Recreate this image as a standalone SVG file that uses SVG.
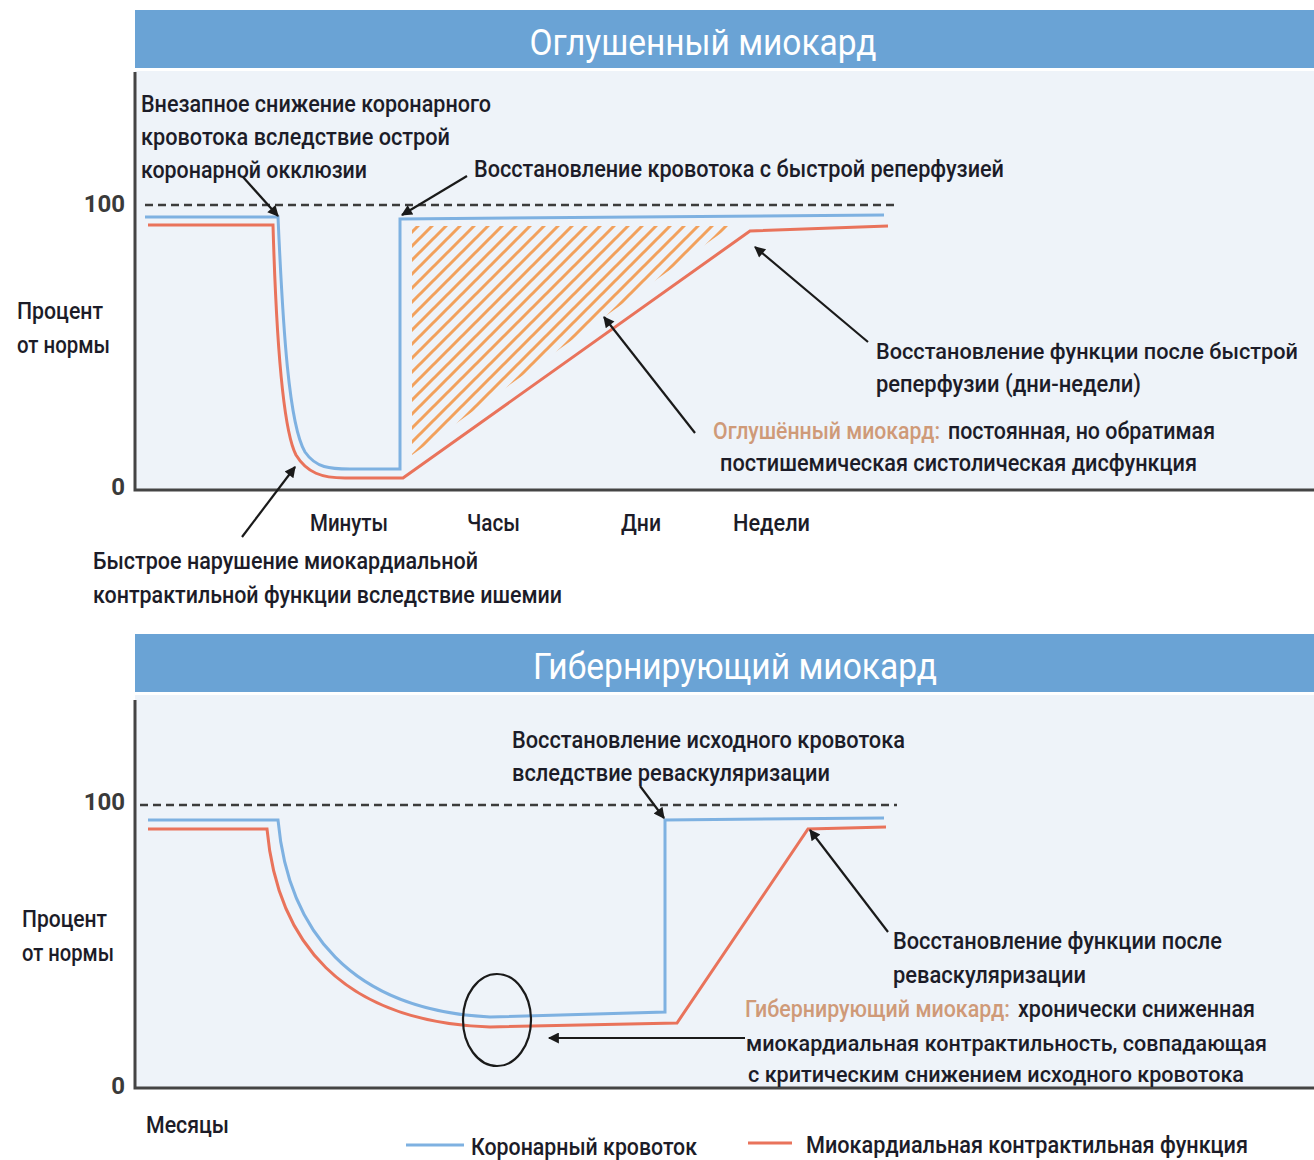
<svg xmlns="http://www.w3.org/2000/svg" width="1314" height="1160" viewBox="0 0 1314 1160">
<style>
.t{font-family:Roboto,"Liberation Sans",sans-serif;font-size:24px;font-weight:500;fill:#1c1c28}
.s{font-size:22px}
.tan{fill:#cf9a78}
.hd{font-family:Roboto,"Liberation Sans",sans-serif;font-size:37px;fill:#ffffff}
.num{font-family:Roboto,"Liberation Sans",sans-serif;font-size:24px;font-weight:bold;fill:#3a3a3a}
.ax{stroke:#444;stroke-width:3;fill:none}
.dash{stroke:#3c3c3c;stroke-width:2.5;stroke-dasharray:8,5;fill:none}
.bl{stroke:#7eb1e1;stroke-width:3;fill:none}
.rd{stroke:#e9735b;stroke-width:3;fill:none}
.ar{stroke:#1a1a1a;stroke-width:2.2;fill:none;marker-end:url(#ah)}
</style>
<defs>
<marker id="ah" viewBox="0 0 10 10" refX="9" refY="5" markerWidth="15" markerHeight="11" markerUnits="userSpaceOnUse" orient="auto">
<path d="M0,0 L10,5 L0,10 z" fill="#1a1a1a"/>
</marker>
<pattern id="hatch" patternUnits="userSpaceOnUse" width="14" height="14">
<path d="M-3.5,3.5 l7,-7 M0,14 l14,-14 M10.5,17.5 l7,-7" stroke="#f2a15c" stroke-width="3"/>
</pattern>
</defs>
<rect width="1314" height="1160" fill="#ffffff"/>

<g id="panel-top">
<rect x="135" y="10" width="1179" height="58" fill="#6aa3d5"/>
<text class="hd" x="703" y="55" text-anchor="middle" textLength="347" lengthAdjust="spacingAndGlyphs">Оглушенный миокард</text>
<rect x="135" y="71" width="1179" height="419" fill="#eef3f9"/>
<polygon points="412,226 731,226 412,455" fill="url(#hatch)"/>
<line class="dash" x1="145" y1="205" x2="897" y2="205"/>
<path class="bl" d="M145,217 H278 C283,330 289,425 305,452 C316,468 330,469 350,469 H400 V219 L884,215"/>
<path class="rd" d="M148,225 H273 C276,330 282,428 296,455 C307,473 322,478 345,478 H403 L750,231 L888,226"/>
<path class="ax" d="M135,72 V490 H1314"/>
<text class="num" x="125" y="212" text-anchor="end">100</text>
<text class="num" x="125" y="495" text-anchor="end">0</text>
<text class="t" x="17" y="319" textLength="86" lengthAdjust="spacingAndGlyphs">Процент</text>
<text class="t" x="17" y="353" textLength="93" lengthAdjust="spacingAndGlyphs">от нормы</text>
<text class="t" x="141" y="112" textLength="350" lengthAdjust="spacingAndGlyphs">Внезапное снижение коронарного</text>
<text class="t" x="141" y="145" textLength="309" lengthAdjust="spacingAndGlyphs">кровотока вследствие острой</text>
<text class="t" x="141" y="178" textLength="226" lengthAdjust="spacingAndGlyphs">коронарной окклюзии</text>
<text class="t" x="474" y="177" textLength="530" lengthAdjust="spacingAndGlyphs">Восстановление кровотока с быстрой реперфузией</text>
<text class="t s" x="876" y="359" textLength="422" lengthAdjust="spacingAndGlyphs">Восстановление функции после быстрой</text>
<text class="t" x="876" y="392" textLength="265" lengthAdjust="spacingAndGlyphs">реперфузии (дни-недели)</text>
<text class="t tan" x="713" y="439" textLength="227" lengthAdjust="spacingAndGlyphs">Оглушённый миокард:</text>
<text class="t" x="948" y="439" textLength="267" lengthAdjust="spacingAndGlyphs">постоянная, но обратимая</text>
<text class="t" x="720" y="471" textLength="477" lengthAdjust="spacingAndGlyphs">постишемическая систолическая дисфункция</text>
<text class="t" x="310" y="531" textLength="78" lengthAdjust="spacingAndGlyphs">Минуты</text>
<text class="t" x="467" y="531" textLength="53" lengthAdjust="spacingAndGlyphs">Часы</text>
<text class="t" x="621" y="531" textLength="40" lengthAdjust="spacingAndGlyphs">Дни</text>
<text class="t" x="733" y="531" textLength="77" lengthAdjust="spacingAndGlyphs">Недели</text>
<text class="t" x="93" y="569" textLength="385" lengthAdjust="spacingAndGlyphs">Быстрое нарушение миокардиальной</text>
<text class="t" x="93" y="603" textLength="469" lengthAdjust="spacingAndGlyphs">контрактильной функции вследствие ишемии</text>
</g>

<g id="panel-bottom">
<rect x="135" y="634" width="1179" height="58" fill="#6aa3d5"/>
<text class="hd" x="735" y="679" text-anchor="middle" textLength="404" lengthAdjust="spacingAndGlyphs">Гибернирующий миокард</text>
<rect x="135" y="695" width="1179" height="393" fill="#eef3f9"/>
<line class="dash" x1="140" y1="805" x2="897" y2="805"/>
<path class="bl" d="M148,820 H278 C288,930 350,1010 490,1017 L665,1012 V820 L884,818"/>
<path class="rd" d="M148,829 H267 C277,940 340,1022 490,1027 L677,1023 L808,829 L886,827"/>
<ellipse cx="497" cy="1020" rx="34" ry="46" fill="none" stroke="#1a1a1a" stroke-width="2.2"/>
<path class="ax" d="M135,700 V1088 H1314"/>
<text class="num" x="125" y="810" text-anchor="end">100</text>
<text class="num" x="125" y="1094" text-anchor="end">0</text>
<text class="t" x="22" y="927" textLength="85" lengthAdjust="spacingAndGlyphs">Процент</text>
<text class="t" x="22" y="961" textLength="92" lengthAdjust="spacingAndGlyphs">от нормы</text>
<text class="t" x="512" y="748" textLength="393" lengthAdjust="spacingAndGlyphs">Восстановление исходного кровотока</text>
<text class="t" x="512" y="781" textLength="318" lengthAdjust="spacingAndGlyphs">вследствие реваскуляризации</text>
<text class="t" x="893" y="949" textLength="329" lengthAdjust="spacingAndGlyphs">Восстановление функции после</text>
<text class="t" x="893" y="983" textLength="193" lengthAdjust="spacingAndGlyphs">реваскуляризации</text>
<text class="t tan" x="745" y="1017" textLength="265" lengthAdjust="spacingAndGlyphs">Гибернирующий миокард:</text>
<text class="t" x="1018" y="1017" textLength="237" lengthAdjust="spacingAndGlyphs">хронически сниженная</text>
<text class="t s" x="746" y="1051" textLength="521" lengthAdjust="spacingAndGlyphs">миокардиальная контрактильность, совпадающая</text>
<text class="t s" x="748" y="1082" textLength="496" lengthAdjust="spacingAndGlyphs">с критическим снижением исходного кровотока</text>
<text class="t" x="146" y="1133" textLength="83" lengthAdjust="spacingAndGlyphs">Месяцы</text>
</g>

<g id="legend">
<line class="bl" x1="406" y1="1145" x2="464" y2="1145"/>
<text class="t" x="471" y="1155" textLength="226" lengthAdjust="spacingAndGlyphs">Коронарный кровоток</text>
<line class="rd" x1="748" y1="1143" x2="792" y2="1143"/>
<text class="t" x="806" y="1153" textLength="442" lengthAdjust="spacingAndGlyphs">Миокардиальная контрактильная функция</text>
</g>

<g id="connectors">
<line class="ar" x1="243" y1="177" x2="278" y2="216"/>
<line class="ar" x1="467" y1="176" x2="402" y2="215"/>
<line class="ar" x1="868" y1="342" x2="755" y2="247"/>
<line class="ar" x1="695" y1="433" x2="604" y2="317"/>
<line class="ar" x1="242" y1="537" x2="295" y2="467"/>
<line class="ar" x1="640" y1="786" x2="664" y2="818"/>
<line class="ar" x1="888" y1="932" x2="810" y2="830"/>
<line class="ar" x1="745" y1="1038" x2="549" y2="1038"/>
</g>
</svg>
